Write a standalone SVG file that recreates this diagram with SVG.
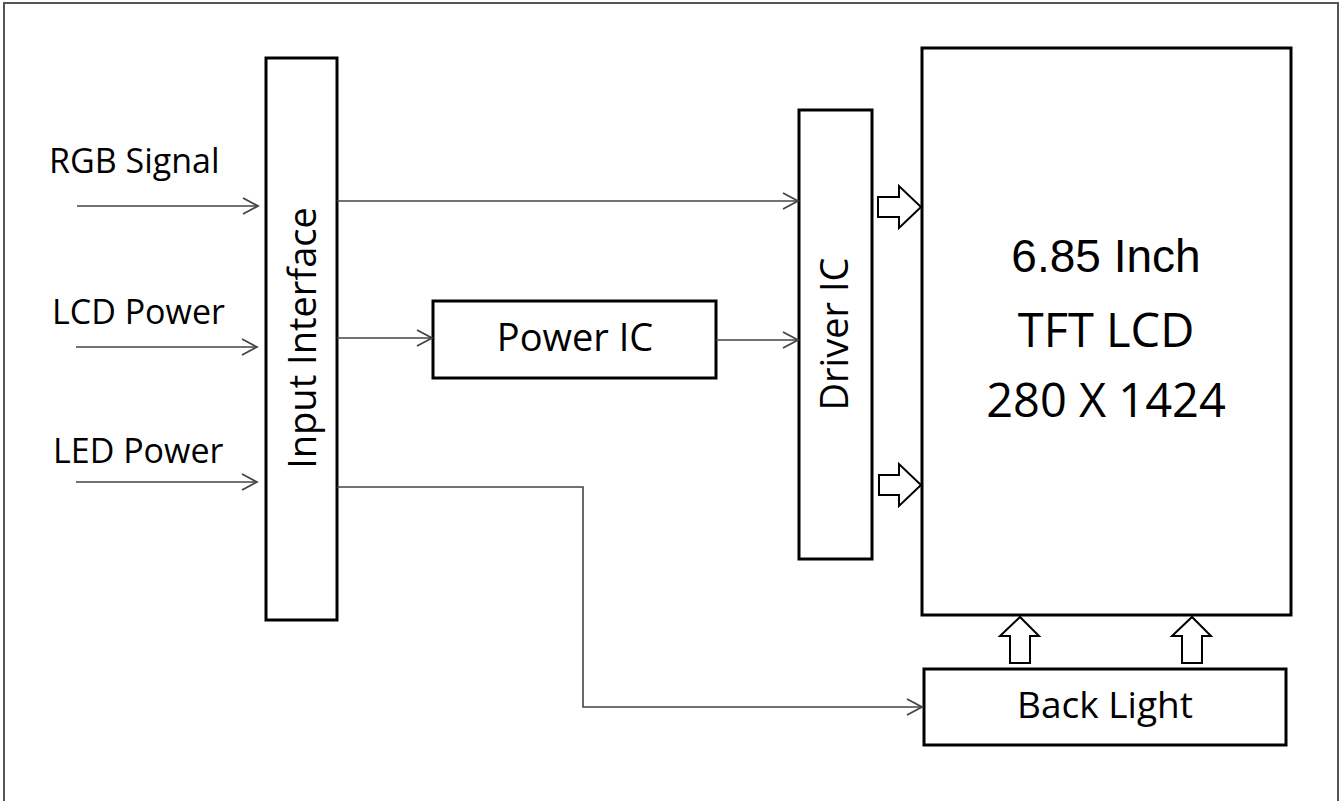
<svg xmlns="http://www.w3.org/2000/svg" width="1341" height="801" viewBox="0 0 1341 801">
<style>
.box{fill:#fff;stroke:#000;stroke-width:3}
.lbl{font-family:"Open Sans","Noto Sans",sans-serif;fill:#000}
.big{font-family:"Open Sans","Noto Sans",sans-serif;font-size:47px;fill:#000;text-anchor:middle}
.conn{fill:none;stroke:#444;stroke-width:1.6}
.blk{fill:#fff;stroke:#000;stroke-width:2;stroke-linejoin:miter}
</style>
<defs>
<marker id="ah" markerWidth="18" markerHeight="20" refX="16" refY="9" orient="auto" markerUnits="userSpaceOnUse">
<path d="M1,1 L16,9 L1,17" fill="none" stroke="#444" stroke-width="1.8"/>
</marker>
</defs>
<rect x="0" y="0" width="1341" height="801" fill="#fff"/>
<rect x="4" y="3" width="1334" height="810" fill="none" stroke="#555" stroke-width="2"/>

<g id="input-interface">
<rect class="box" x="266" y="58" width="71" height="562"/>
<text class="lbl" font-size="38" transform="translate(316,338) rotate(-90)" text-anchor="middle">Input Interface</text>
</g>
<g id="power-ic">
<rect class="box" x="433" y="301" width="283" height="77"/>
<text class="lbl" font-size="38" x="575" y="351" text-anchor="middle">Power IC</text>
</g>
<g id="driver-ic">
<rect class="box" x="799" y="110" width="73" height="449"/>
<text class="lbl" font-size="38" transform="translate(848,334) rotate(-90)" text-anchor="middle">Driver IC</text>
</g>
<g id="tft-lcd">
<rect class="box" x="922" y="48" width="369" height="567"/>
<text x="1106" y="272" font-family="'Liberation Sans',Arial,sans-serif" font-size="46" text-anchor="middle" fill="#000">6.85 Inch</text>
<text class="big" x="1106" y="347">TFT LCD</text>
<text class="big" x="1106" y="417">280 X 1424</text>
</g>
<g id="back-light">
<rect class="box" x="924" y="669" width="362" height="76"/>
<text class="lbl" font-size="37" x="1105" y="718" text-anchor="middle">Back Light</text>
</g>

<g id="labels">
<text class="lbl" font-size="34" x="49" y="173">RGB Signal</text>
<text class="lbl" font-size="34" x="52" y="324">LCD Power</text>
<text class="lbl" font-size="34" x="53" y="463">LED Power</text>
</g>

<g id="connectors">
<line class="conn" x1="77" y1="206" x2="258" y2="206" marker-end="url(#ah)"/>
<line class="conn" x1="76" y1="347" x2="257" y2="347" marker-end="url(#ah)"/>
<line class="conn" x1="76" y1="482" x2="257" y2="482" marker-end="url(#ah)"/>
<line class="conn" x1="337" y1="201" x2="798" y2="201" marker-end="url(#ah)"/>
<line class="conn" x1="337" y1="338" x2="432" y2="338" marker-end="url(#ah)"/>
<line class="conn" x1="716" y1="340" x2="798" y2="340" marker-end="url(#ah)"/>
<path class="conn" d="M337,487 H583 V707 H922" marker-end="url(#ah)"/>
<polygon class="blk" points="878,197 899,197 899,186 921,207 899,228 899,217 878,217"/>
<polygon class="blk" points="879,475 899,475 899,464 921,485 899,506 899,495 879,495"/>
<polygon class="blk" points="1010,663 1010,636 1000,636 1020,617 1039,636 1030,636 1030,663"/>
<polygon class="blk" points="1182,663 1182,636 1172,636 1192,617 1211,636 1202,636 1202,663"/>
</g>
</svg>
